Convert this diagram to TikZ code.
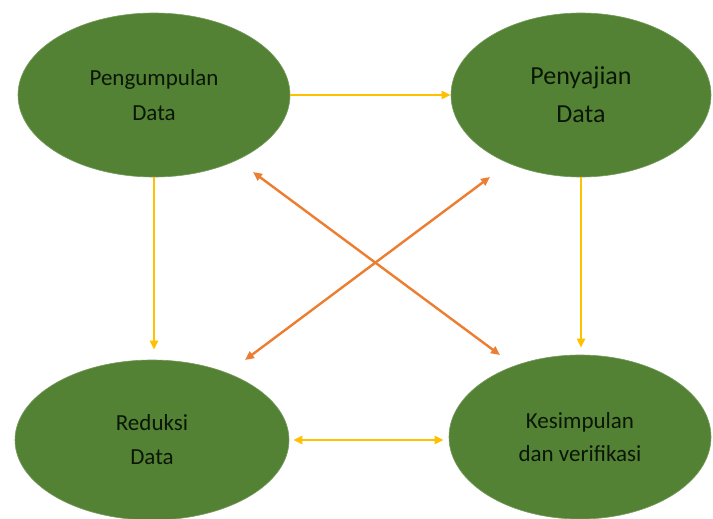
\documentclass[tikz,border=0pt]{standalone}
\usepackage{fontspec}
\setmainfont{Carlito}
\usetikzlibrary{arrows.meta,shapes.geometric}
\definecolor{ovalgreen}{HTML}{548235}
\definecolor{arrowyellow}{HTML}{FFC000}
\definecolor{arroworange}{HTML}{ED7D31}
\definecolor{textdark}{HTML}{0A1606}
\tikzset{
  oval/.style={ellipse, fill=ovalgreen, draw=ovalgreen!80!white, line width=0.6pt, inner sep=0pt,
    text=textdark, align=center, font=\fontsize{23}{35}\selectfont},
  yarrow/.style={draw=arrowyellow, line width=2.4pt, arrows={-Triangle[length=9pt,width=8pt]}},
  ydouble/.style={draw=arrowyellow, line width=2.4pt, arrows={Triangle[length=9pt,width=8pt]-Triangle[length=9pt,width=8pt]}},
  odouble/.style={draw=arroworange, line width=2.4pt, arrows={Triangle[length=9pt,width=8pt]-Triangle[length=9pt,width=8pt]}}
}
\begin{document}
\begin{tikzpicture}[x=1pt,y=-1pt]
\useasboundingbox[fill=white] (0,0) rectangle (713,519);
\node[oval, minimum width=272pt, minimum height=164pt] (tl) at (154,95) {Pengumpulan\\Data};
\node[oval, minimum width=260pt, minimum height=164pt, font=\fontsize{26}{38}\selectfont] (tr) at (581,95) {Penyajian\\Data};
\node[oval, minimum width=274pt, minimum height=160pt, font=\fontsize{23}{34}\selectfont] (bl) at (152,440) {Reduksi\\Data};
\node[oval, minimum width=262pt, minimum height=164pt, font=\fontsize{23}{33}\selectfont] (br) at (580,437) {Kesimpulan\\dan verifikasi};
% straight yellow arrows
\draw[yarrow] (tl.east) -- (tr.west);
\draw[yarrow, shorten >=10pt] (tl.south) -- (tl.south |- bl.north);
\draw[yarrow, shorten >=7pt] (tr.south) -- (tr.south |- br.north);
\draw[ydouble, shorten <=4pt, shorten >=5pt] (bl.east) -- (bl.east -| br.west);
% orange diagonals
\coordinate (d1a) at (253,172);
\coordinate (d1b) at (500,355);
\coordinate (d2a) at (245,360);
\coordinate (d2b) at (490,177);
\draw[odouble] (d1a) -- (d1b);
\draw[odouble] (d2a) -- (d2b);
\end{tikzpicture}
\end{document}
